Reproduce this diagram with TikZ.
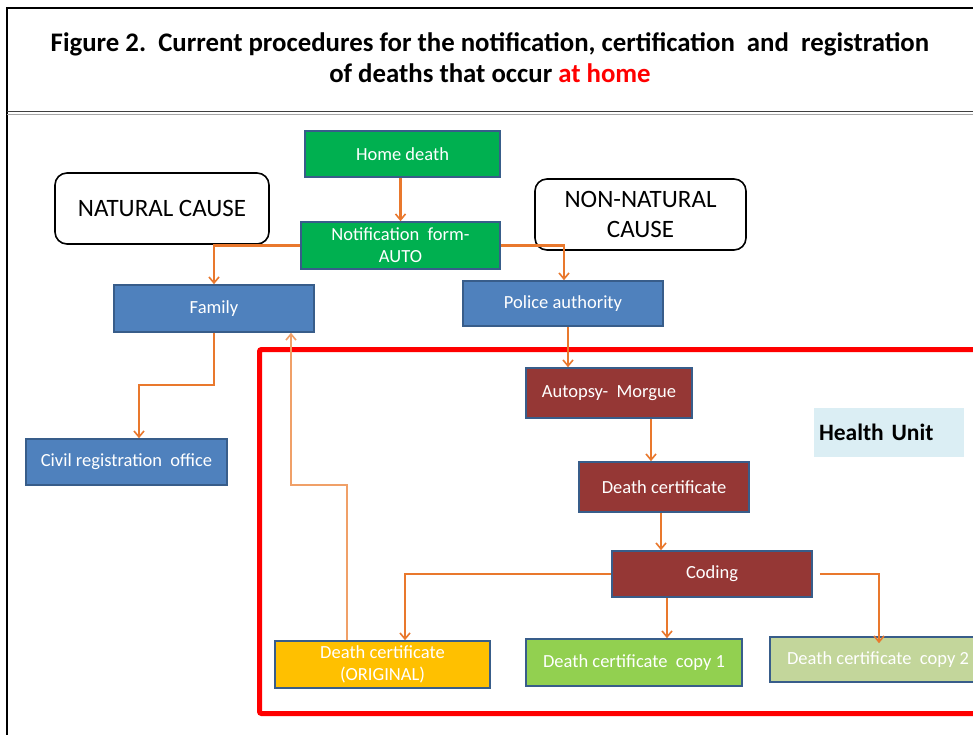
\documentclass[tikz,border=0pt]{standalone}
\usepackage{fontspec}
\setmainfont{Carlito}
\usetikzlibrary{arrows.meta,calc}
\definecolor{bgreen}{HTML}{00B050}
\definecolor{bblue}{HTML}{4F81BD}
\definecolor{bdred}{HTML}{953735}
\definecolor{byell}{HTML}{FFC000}
\definecolor{blgreen}{HTML}{92D050}
\definecolor{bpgreen}{HTML}{C3D69B}
\definecolor{bedge}{HTML}{385D8A}
\definecolor{corange}{HTML}{E9782D}
\definecolor{clorange}{HTML}{F0A068}
\definecolor{hfill}{HTML}{DBEEF4}
\definecolor{tred}{HTML}{FF0000}
\begin{document}
\begin{tikzpicture}[x=1pt,y=-1pt,
  box/.style={draw=bedge, line width=1.6pt, text=white, font=\fontsize{18.5}{22}\selectfont, align=center, inner sep=0pt},
  cause/.style={draw=black, line width=1.6pt, rounded corners=12pt, font=\fontsize{25}{30}\selectfont, align=center, inner sep=0pt},
  arr/.style={draw=corange, line width=2.3pt, -{Straight Barb[length=6pt,width=10pt,line width=1.6pt]}},
  larr/.style={draw=clorange, line width=2pt, -{Straight Barb[length=6pt,width=10pt,line width=1.6pt]}}]
\clip (0,0) rectangle (973,734);
\fill[white] (0,0) rectangle (973,734);
% frame
\draw[line width=2.2pt] (7,740) -- (7,8) -- (985,8);
\draw[line width=1.5pt, black!75] (7,111.5) -- (985,111.5);
\draw[line width=0.9pt, black!35] (7,114.5) -- (985,114.5);
% title
\node[font=\bfseries\fontsize{26.8}{31}\selectfont, align=center] (title) at (490,58)
  {Figure 2.\ \ Current procedures for the notification, certification\ \ and\ \ registration\\
   of deaths that occur \textcolor{tred}{at home}};
% red box
\draw[tred, line width=5pt, rounded corners=2pt] (259.5,349.5) rectangle (990,713.5);
% nodes
\node[box, fill=bgreen, minimum width=195, minimum height=46] (home) at (402.5,154) {Home death};
\node[box, fill=bgreen, minimum width=199, minimum height=47] (notif) at (400.5,245.5) {Notification\ \ form-\\AUTO};
\node[cause, minimum width=214, minimum height=71] (nat) at (162,208.5) {NATURAL CAUSE};
\node[cause, minimum width=211, minimum height=71] (nonnat) at (640.5,214.5) {NON-NATURAL\\CAUSE};
\node[box, fill=bblue, minimum width=200, minimum height=47] (family) at (214,308.5) {Family};
\node[box, fill=bblue, minimum width=200, minimum height=45] (police) at (563,303.5) {Police authority};
\node[box, fill=bblue, minimum width=201, minimum height=46] (civil) at (126.5,462) {Civil registration\ \ office};
\node[box, fill=bdred, minimum width=166, minimum height=50] (autopsy) at (609,393) {Autopsy-\ \ Morgue};
\node[fill=hfill, minimum height=49, text width=140pt, inner xsep=5pt, inner ysep=0pt, align=left,
  font=\bfseries\fontsize{23.5}{28}\selectfont] (health) at (889,432.5) {Health Unit};
\node[box, fill=bdred, minimum width=170, minimum height=50] (dc) at (664,487) {Death certificate};
\node[box, fill=bdred, minimum width=200, minimum height=46] (coding) at (712,574) {Coding};
\node[box, fill=byell, minimum width=215, minimum height=47] (orig) at (382.5,664.5) {Death certificate\\(ORIGINAL)};
\node[box, fill=blgreen, minimum width=216, minimum height=47] (copy1) at (634,662.5) {Death certificate\ \ copy 1};
\node[box, fill=bpgreen, minimum width=216, minimum height=45] (copy2) at (878,659.5) {Death certificate\ \ copy 2};
% connectors
\draw[arr] (notif.north |- home.south) -- (notif.north);
\draw[arr] (notif.west) -| (family.north);
\draw[arr] (notif.east) -| ([xshift=1pt]police.north);
\draw[arr] (family.south) -- ++(0,52) -| ([xshift=12.5pt]civil.north);
\draw[arr] ([xshift=5pt]police.south) -- ([xshift=5pt]police.south |- autopsy.north);
\draw[arr] ([xshift=42pt]autopsy.south) -- ([xshift=42pt]autopsy.south |- dc.north);
\draw[arr] ([xshift=-3pt]dc.south) -- ([xshift=-3pt]dc.south |- coding.north);
\draw[arr] (coding.west) -| ([xshift=22.5pt]orig.north);
\draw[arr] ([xshift=-45pt]coding.south) -- ([xshift=-45pt]coding.south |- copy1.north);
\draw[arr] ([xshift=7pt]coding.east) -| ([xshift=1pt,yshift=-7pt]copy2.north);
\draw[larr] ([xshift=-35.5pt]orig.north) -- ++(0,-155) -| ([xshift=77pt]family.south);
\end{tikzpicture}
\end{document}
